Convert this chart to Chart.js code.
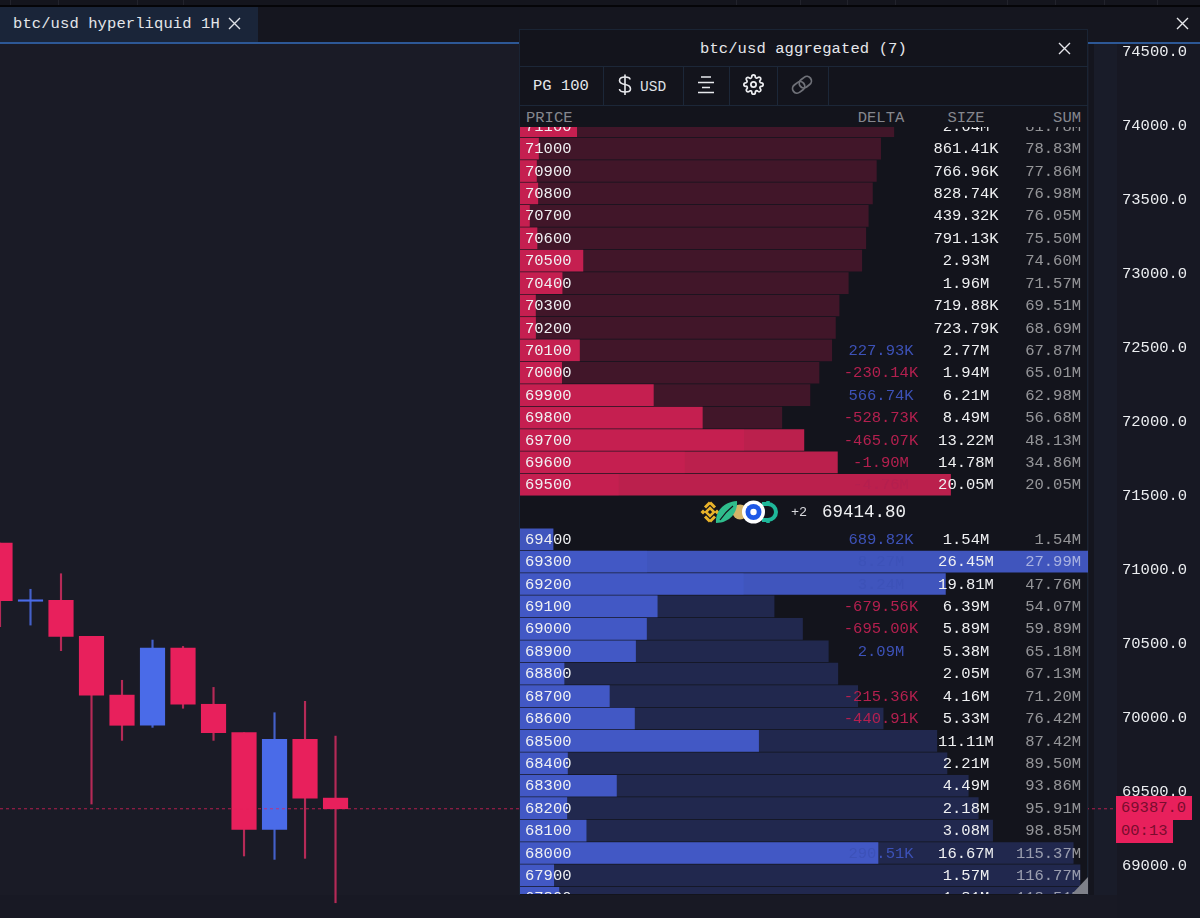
<!DOCTYPE html>
<html>
<head>
<meta charset="utf-8">
<title>btc/usd</title>
<script src="https://cdn.jsdelivr.net/npm/chart.js@4"></script>
<style>
  html, body { margin: 0; padding: 0; width: 1200px; height: 918px; overflow: hidden; background: #1a1b26; }
  body, div { font-family: "Liberation Mono", monospace; }
  .abs { position: absolute; }
  .sep { position: absolute; top: 67px; width: 1px; height: 38px; background: #1c2738; }
  .clip { position: absolute; left: 520px; width: 568px; overflow: hidden; }
  svg { position: absolute; overflow: visible; }
</style>
</head>
<body>
<!-- backgrounds behind the candle chart -->
<div class="abs" style="left:1089px;top:44px;width:5px;height:874px;background:#14151e"></div>
<div class="abs" style="left:1094px;top:44px;width:23px;height:874px;background:#191c29"></div>
<div class="abs" style="left:1117px;top:44px;width:83px;height:874px;background:#171823"></div>
<div class="abs" style="left:0;top:895px;width:1117px;height:23px;background:#181924"></div>

<canvas id="candles" class="abs" width="1200" height="874" style="left:0;top:44px"></canvas>

<!-- top strip and tab bar -->
<div id="strip" class="abs" style="left:0;top:0;width:1200px;height:5px;background:#14151d"></div>
<div class="abs" style="left:0;top:5px;width:1200px;height:2px;background:#050508"></div>
<div class="abs" style="left:0;top:7px;width:1200px;height:35px;background:#15161f"></div>
<div class="abs" style="left:0;top:7px;width:258px;height:35px;background:#1a2539"></div>
<div class="abs" style="left:0;top:42px;width:1200px;height:2px;background:#2d5896"></div>
<div class="abs" style="left:13px;top:15px;font-size:15.5px;line-height:18px;color:#e4e6ea;white-space:pre;letter-spacing:0.1px">btc/usd hyperliquid 1H</div>
<svg style="left:228px;top:17px" width="13" height="13"><path d="M1 1L12 12M12 1L1 12" stroke="#dfe1e6" stroke-width="1.4"/></svg>
<svg style="left:1176px;top:17px" width="13" height="13"><path d="M1 1L12 12M12 1L1 12" stroke="#e8e9ed" stroke-width="1.4"/></svg>

<!-- book panel -->
<div class="abs" style="left:519px;top:29px;width:569px;height:866px;background:#13141c;border:1px solid #1a2434;border-bottom:none;box-sizing:border-box"></div>
<div class="abs" style="left:520px;top:66px;width:568px;height:1px;background:#1c2738"></div>
<div class="abs" style="left:520px;top:105px;width:568px;height:1px;background:#1c2738"></div>
<div class="abs" style="left:700px;top:40px;font-size:15.5px;line-height:18px;color:#e6e7eb;white-space:pre;letter-spacing:0.1px">btc/usd aggregated (7)</div>
<svg style="left:1058px;top:42px" width="13" height="13"><path d="M1 1L12 12M12 1L1 12" stroke="#e4e5ea" stroke-width="1.4"/></svg>

<div class="sep" style="left:603px"></div>
<div class="sep" style="left:683px"></div>
<div class="sep" style="left:729px"></div>
<div class="sep" style="left:777px"></div>
<div class="sep" style="left:828px"></div>
<div class="abs" style="left:533px;top:77px;font-size:15.5px;line-height:18px;color:#e6e7eb;white-space:pre">PG 100</div>
<svg style="left:617px;top:74px" width="16" height="22" fill="none" stroke="#e8e9ed" stroke-width="1.6">
  <path d="M13 5.5C13 3.5 11 3 8 3S2.5 4 2.5 6.5 5 10 8 10.5 13.5 12 13.5 15 11 18 8 18 2.5 17 2.5 15"/><path d="M8 0.5V21"/>
</svg>
<div class="abs" style="left:640px;top:78px;font-size:14.5px;line-height:18px;color:#dfe1e5;white-space:pre">USD</div>
<svg style="left:697px;top:76px" width="18" height="18" stroke="#e8e9ed" stroke-width="1.5">
  <path d="M4 1H14M1 6.5H17M5 11.5H13M1 16.5H17"/>
</svg>
<svg style="left:743px;top:74px" width="21" height="21" viewBox="0 0 24 24" fill="none" stroke="#ecedf0" stroke-width="2" stroke-linejoin="round">
  <circle cx="12" cy="12" r="3"/>
  <path d="M19.4 15a1.65 1.65 0 0 0 .33 1.82l.06.06a2 2 0 1 1-2.83 2.83l-.06-.06a1.65 1.65 0 0 0-2.82 1.17V21a2 2 0 1 1-4 0v-.09A1.65 1.65 0 0 0 7.26 19.7l-.06.06a2 2 0 1 1-2.83-2.83l.06-.06A1.65 1.65 0 0 0 3.26 14H3a2 2 0 1 1 0-4h.09A1.65 1.65 0 0 0 4.3 7.26l-.06-.06a2 2 0 1 1 2.83-2.83l.06.06A1.65 1.65 0 0 0 10 3.26V3a2 2 0 1 1 4 0v.09a1.65 1.65 0 0 0 2.82 1.17l.06-.06a2 2 0 1 1 2.83 2.83l-.06.06A1.65 1.65 0 0 0 20.74 10H21a2 2 0 1 1 0 4h-.09a1.65 1.65 0 0 0-1.51 1z"/>
</svg>
<svg style="left:791px;top:75px" width="23" height="20" fill="none" stroke="#6f7178" stroke-width="1.8" transform="rotate(-38)">
  <rect x="0.5" y="5" width="13" height="9" rx="4.5"/><rect x="9" y="5" width="13" height="9" rx="4.5"/>
</svg>

<div class="abs" style="left:526px;top:109px;font-size:15.5px;line-height:18px;color:#85878e">PRICE</div>
<div class="abs" style="left:781px;width:200px;text-align:center;top:109px;font-size:15.5px;line-height:18px;color:#85878e">DELTA</div>
<div class="abs" style="left:866px;width:200px;text-align:center;top:109px;font-size:15.5px;line-height:18px;color:#85878e">SIZE</div>
<div class="abs" style="left:981px;width:100px;text-align:right;top:109px;font-size:15.5px;line-height:18px;color:#85878e">SUM</div>

<div class="clip" style="top:127px;height:369px"><canvas id="asks" width="568" height="381" style="position:absolute;left:0;top:-12px"></canvas></div>
<div class="clip" style="top:528px;height:366px"><canvas id="bids" width="568" height="381" style="position:absolute;left:0;top:0"></canvas></div>
<div class="abs" style="left:1072px;top:877px;width:16px;height:17px;background:#7f818a;clip-path:polygon(100% 0,100% 100%,0 100%)"></div>

<!-- mid row: exchange logos, count and last price -->
<svg style="left:700px;top:498px" width="82" height="28">
  <circle cx="40" cy="14" r="7.5" fill="#d4b468"/>
  <path d="M62 6h6a8 8 0 0 1 0 16h-6" fill="none" stroke="#1fb89a" stroke-width="4"/>
  <path d="M68 3V8M68 20V25" stroke="#1fb89a" stroke-width="3.5"/>
  <g fill="none" stroke="#e9b32a" stroke-width="3">
    <path d="M10 4.5L15 9.5M10 4.5L5 9.5M10 23.5L15 18.5M10 23.5L5 18.5"/>
    <path d="M0.5 14l2.5-2.5L5.5 14 3 16.5z" fill="#e9b32a" stroke="none"/>
    <path d="M19.5 14l-2.5-2.5L14.5 14l2.5 2.5z" fill="#e9b32a" stroke="none"/>
    <path d="M10 10l4 4-4 4-4-4z" stroke-width="2.5"/>
  </g>
  <path d="M16 25C15 14 23 4 37 3 38 14 30 25 16 25z" fill="#2fbd8c"/>
  <path d="M20 22C24 16 28 12 33 8" fill="none" stroke="#13141c" stroke-width="1.2"/>
  <circle cx="53.5" cy="14" r="11.5" fill="#ffffff"/>
  <circle cx="53.5" cy="14" r="8" fill="#1e58e6"/>
  <circle cx="53.5" cy="14" r="3.2" fill="#ffffff"/>
</svg>
<div class="abs" style="left:791px;top:505px;font-size:13.5px;line-height:15px;color:#d8d9dd">+2</div>
<div class="abs" style="left:822px;top:502px;font-size:17.5px;line-height:20px;color:#f0f1f3">69414.80</div>

<!-- last price tag -->
<div class="abs" style="left:1116px;top:796px;width:76px;height:24px;background:#e8205c;color:#7a0c2e;font-size:15.5px;line-height:24px;text-indent:5px">69387.0</div>
<div class="abs" style="left:1116px;top:820px;width:57px;height:23px;background:#e8205c;color:#7a0c2e;font-size:15.5px;line-height:23px;text-indent:5px">00:13</div>

<script>
// candle data
const opens  = [71182, 70789, 70795, 70552, 70155, 69951, 70473, 70093, 69901, 69248, 69856, 69459];
const closes = [70793, 70799, 70552, 70155, 69951, 70473, 70093, 69901, 69248, 69856, 69459, 69387];
const highs  = [71182, 70870, 70975, 70552, 70255, 70527, 70484, 70207, 69901, 70036, 70113, 69878];
const lows   = [70617, 70628, 70455, 69419, 69849, 69937, 70066, 69849, 69068, 69045, 69052, 68752];
const priceTicks = [74500, 74000, 73500, 73000, 72500, 72000, 71500, 71000, 70500, 70000, 69500, 69000];
const lastPrice = 69387;

// order book rows, top to bottom
const askPrices = [71100, 71000, 70900, 70800, 70700, 70600, 70500, 70400, 70300, 70200, 70100, 70000, 69900, 69800, 69700, 69600, 69500];
const askSizes  = [2.64, 0.86141, 0.76696, 0.82874, 0.43932, 0.79113, 2.93, 1.96, 0.71988, 0.72379, 2.77, 1.94, 6.21, 8.49, 13.22, 14.78, 20.05];
const askSums   = [81.78, 78.83, 77.86, 76.98, 76.05, 75.50, 74.60, 71.57, 69.51, 68.69, 67.87, 65.01, 62.98, 56.68, 48.13, 34.86, 20.05];
const askSizeText = ['2.64M', '861.41K', '766.96K', '828.74K', '439.32K', '791.13K', '2.93M', '1.96M', '719.88K', '723.79K', '2.77M', '1.94M', '6.21M', '8.49M', '13.22M', '14.78M', '20.05M'];
const askDeltas = ['', '', '', '', '', '', '', '', '', '', '227.93K', '-230.14K', '566.74K', '-528.73K', '-465.07K', '-1.90M', '-4.76M'];

const bidPrices = [69400, 69300, 69200, 69100, 69000, 68900, 68800, 68700, 68600, 68500, 68400, 68300, 68200, 68100, 68000, 67900, 67800];
const bidSizes  = [1.54, 26.45, 19.81, 6.39, 5.89, 5.38, 2.05, 4.16, 5.33, 11.11, 2.21, 4.49, 2.18, 3.08, 16.67, 1.57, 1.81];
const bidSums   = [1.54, 27.99, 47.76, 54.07, 59.89, 65.18, 67.13, 71.20, 76.42, 87.42, 89.50, 93.86, 95.91, 98.85, 115.37, 116.77, 118.51];
const bidDeltas = ['689.82K', '8.27M', '3.24M', '-679.56K', '-695.00K', '2.09M', '', '-215.36K', '-440.91K', '', '', '', '', '', '290.51K', '', ''];

const monoFont = '"Liberation Mono", monospace';
const candleRed = '#e8205c';
const candleBlue = '#4a6be8';
const isUp = (i) => closes[i] >= opens[i];

// strip of faint ticks along the very top
const stripTicks = [10, 58, 137, 183, 736, 800, 847, 895, 1007, 1055, 1104, 1157];
stripTicks.forEach(x => {
    const d = document.createElement('div');
    d.className = 'abs';
    d.style.cssText = `left:${x}px;top:0;width:1px;height:5px;background:#22232c`;
    document.getElementById('strip').appendChild(d);
});

// candle chart, bodies and wicks are floating bars
new Chart(document.getElementById('candles').getContext('2d'), {
    type: 'bar',
    data: {
        datasets: [
            {
                type: 'line',
                data: [{ x: 0, y: lastPrice }, { x: 36.62, y: lastPrice }],
                borderColor: 'rgba(232, 32, 92, 0.75)',
                borderWidth: 1,
                borderDash: [3, 3],
                pointRadius: 0,
                order: 0
            },
            {
                data: opens.map((o, i) => ({ x: i, y: [o, closes[i]] })),
                backgroundColor: opens.map((o, i) => isUp(i) ? candleBlue : candleRed),
                barThickness: 24.5,
                grouped: false,
                order: 1
            },
            {
                data: opens.map((o, i) => ({ x: i, y: [lows[i], highs[i]] })),
                backgroundColor: opens.map((o, i) => isUp(i) ? '#4460c8' : '#b52a57'),
                barThickness: 1.5,
                grouped: false,
                order: 2
            }
        ]
    },
    options: {
        responsive: false,
        animation: false,
        layout: { padding: 0 },
        plugins: { legend: { display: false }, tooltip: { enabled: false } },
        scales: {
            x: { type: 'linear', min: 0, max: 36.62, display: false, offset: false },
            y: {
                position: 'right',
                min: 68649,
                max: 74554,
                afterBuildTicks: (axis) => { axis.ticks = priceTicks.map(v => ({ value: v })); },
                afterFit: (axis) => {
                    // no margin for the tick labels, the plot runs the full height
                    axis.width = 83;
                    axis.paddingTop = 0;
                    axis.paddingBottom = 0;
                },
                grid: { display: false, drawTicks: false },
                border: { display: false },
                ticks: {
                    color: '#eceef1',
                    font: { family: monoFont, size: 15.5 },
                    padding: 5,
                    autoSkip: false,
                    callback: (v) => Number(v).toFixed(1)
                }
            }
        }
    }
});

// writes price, delta, size and sum on each book row
const rowText = {
    id: 'rowText',
    afterDraw(chart, args, opts) {
        const ctx = chart.ctx;
        const y = chart.scales.y;
        ctx.save();
        ctx.font = '15.5px ' + monoFont;
        ctx.textBaseline = 'middle';
        opts.prices.forEach((p, i) => {
            const py = y.getPixelForValue(i) + 0.5;
            ctx.textAlign = 'left';
            ctx.fillStyle = '#f0f1f3';
            ctx.fillText(String(p), 5, py);
            const delta = opts.deltas[i];
            if (delta) {
                ctx.textAlign = 'center';
                ctx.fillStyle = delta.startsWith('-') ? '#b4204f' : '#3d52b8';
                ctx.fillText(delta, 361, py);
            }
            ctx.textAlign = 'center';
            ctx.fillStyle = '#f0f1f3';
            ctx.fillText(opts.sizeText[i], 446, py);
            ctx.textAlign = 'right';
            ctx.fillStyle = 'rgba(255, 255, 255, 0.55)';
            ctx.fillText(opts.sums[i].toFixed(2) + 'M', 561, py);
        });
        ctx.restore();
    }
};

function makeBook(canvasId, book) {
    return new Chart(document.getElementById(canvasId).getContext('2d'), {
        type: 'bar',
        plugins: [rowText],
        data: {
            labels: book.prices,
            datasets: [
                {
                    data: book.sums,
                    xAxisID: 'xSum',
                    backgroundColor: book.dim,
                    base: book.sumMin,
                    barThickness: 21,
                    grouped: false
                },
                {
                    data: book.sizes,
                    xAxisID: 'xSize',
                    backgroundColor: book.bright,
                    barThickness: 21,
                    grouped: false
                }
            ]
        },
        options: {
            indexAxis: 'y',
            responsive: false,
            animation: false,
            layout: { padding: 0 },
            plugins: {
                legend: { display: false },
                tooltip: { enabled: false },
                rowText: { prices: book.prices, deltas: book.deltas, sizeText: book.sizeText, sums: book.sums }
            },
            scales: {
                y: { display: false },
                xSize: { type: 'linear', display: false, min: 0, max: 26.45 },
                xSum: { type: 'linear', display: false, min: book.sumMin, max: book.sumMax }
            }
        }
    });
}

makeBook('asks', {
    prices: askPrices, sizes: askSizes, sums: askSums, deltas: askDeltas, sizeText: askSizeText,
    dim: 'rgba(230, 30, 90, 0.22)', bright: 'rgba(230, 35, 90, 0.8)', sumMin: -2, sumMax: 125.3
});
makeBook('bids', {
    prices: bidPrices, sizes: bidSizes, sums: bidSums, deltas: bidDeltas, sizeText: bidSizes.map(s => s.toFixed(2) + 'M'),
    dim: 'rgba(75, 100, 225, 0.26)', bright: 'rgba(75, 100, 225, 0.82)', sumMin: 2, sumMax: 118.4
});
</script>
</body>
</html>
